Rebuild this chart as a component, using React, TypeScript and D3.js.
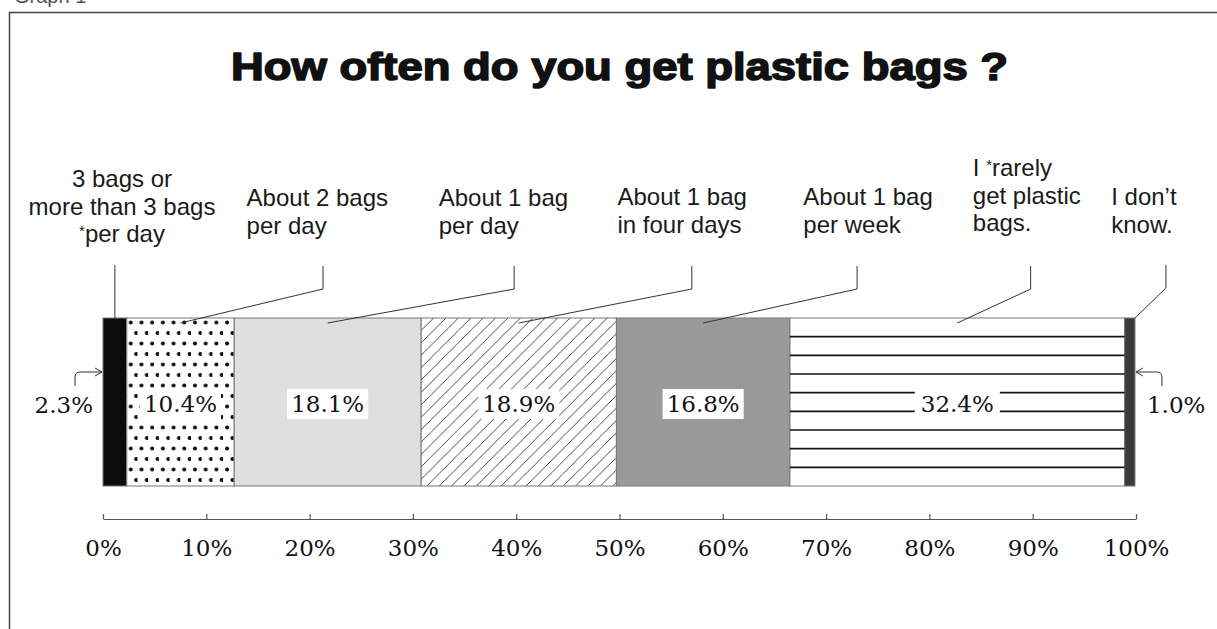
import {useEffect, useRef} from "react";
import * as d3 from "d3";

// Datos del gráfico
const categories = [
  "3 bags or more than 3 bags *per day",
  "About 2 bags per day",
  "About 1 bag per day",
  "About 1 bag in four days",
  "About 1 bag per week",
  "I *rarely get plastic bags.",
  "I don't know.",
];
const labelLines = [
  ["3 bags or", "more than 3 bags", "*per day"],
  ["About 2 bags", "per day"],
  ["About 1 bag", "per day"],
  ["About 1 bag", "in four days"],
  ["About 1 bag", "per week"],
  ["I *rarely", "get plastic", "bags."],
  ["I don\u2019t", "know."],
];
const values = [2.3, 10.4, 18.1, 18.9, 16.8, 32.4, 1.0];
const valueLabels = ["2.3%", "10.4%", "18.1%", "18.9%", "16.8%", "32.4%", "1.0%"];
const tickValues = [0, 10, 20, 30, 40, 50, 60, 70, 80, 90, 100];
const title = "How often do you get plastic bags ?";

// Layout de etiquetas (en % del eje)
const labelAtPct = [1.84, 13.9, 32.5, 49.8, 67.8, 84.2, 97.6];
const elbowPct = [NaN, 21.3, 39.8, 57.0, 73.0, 89.8, 102.9];
const labelTop = [187, 206, 206, 205, 205, 176, 205];

const W = 1217;
const H = 629;
const SANS = "'Liberation Sans', Arial, sans-serif";
const SERIF = "'DejaVu Serif', 'Liberation Serif', serif";

export default function App() {
  const svgRef = useRef<SVGSVGElement>(null);

  useEffect(() => {
    if (!svgRef.current) return;
    const svg = d3.select(svgRef.current);
    svg.selectAll("*").remove();

    const x = d3.scaleLinear().domain([0, 100]).range([103, 1136]);
    const barTop = 318;
    const barBottom = 486;
    const barMid = (barTop + barBottom) / 2;
    const starts = [0, ...Array.from(d3.cumsum(values))];

    // Patrones
    const defs = svg.append("defs");
    const dots = defs
      .append("pattern")
      .attr("id", "dots")
      .attr("patternUnits", "userSpaceOnUse")
      .attr("x", x(starts[1]))
      .attr("y", barTop)
      .attr("width", 10.7)
      .attr("height", 21)
      .attr("patternTransform", "translate(0,0)");
    dots.append("rect").attr("width", 10.7).attr("height", 21).attr("fill", "#fff");
    dots.append("circle").attr("cx", 4).attr("cy", 4.5).attr("r", 2).attr("fill", "#0d0d0d");
    dots.append("circle").attr("cx", 9.35).attr("cy", 15).attr("r", 2).attr("fill", "#0d0d0d");

    const hs = 12.4;
    const hatch = defs
      .append("pattern")
      .attr("id", "hatch")
      .attr("patternUnits", "userSpaceOnUse")
      .attr("x", x(starts[3]))
      .attr("y", barTop)
      .attr("width", hs)
      .attr("height", hs);
    hatch.append("rect").attr("width", hs).attr("height", hs).attr("fill", "#fff");
    hatch
      .append("path")
      .attr(
        "d",
        `M0,${hs} L${hs},0 M${-hs / 2},${hs / 2} L${hs / 2},${-hs / 2} M${hs / 2},${hs * 1.5} L${hs * 1.5},${hs / 2}`,
      )
      .attr("stroke", "#333")
      .attr("stroke-width", 0.9);

    const fills = ["#0c0c0c", "url(#dots)", "#dfdfdf", "url(#hatch)", "#9a9a9a", "#fff", "#3a3a3a"];

    // Marco
    svg
      .append("path")
      .attr("d", `M9.5,${H} V12.5 H${W}`)
      .attr("fill", "none")
      .attr("stroke", "#444")
      .attr("stroke-width", 1.5);
    svg
      .append("text")
      .attr("x", 14)
      .attr("y", 3)
      .style("font-family", SANS)
      .style("font-size", "20px")
      .attr("fill", "#555")
      .text("Graph 1");

    // Título
    svg
      .append("text")
      .attr("x", 619.5)
      .attr("y", 80)
      .attr("text-anchor", "middle")
      .attr("textLength", 777)
      .attr("lengthAdjust", "spacingAndGlyphs")
      .style("font-family", SANS)
      .style("font-weight", "bold")
      .style("font-size", "39px")
      .attr("fill", "#111")
      .attr("stroke", "#111")
      .attr("stroke-width", 1.6)
      .attr("stroke-linejoin", "round")
      .text(title);

    // Segmentos
    svg
      .selectAll(".seg")
      .data(values)
      .enter()
      .append("rect")
      .attr("class", "seg")
      .attr("x", (_, i) => x(starts[i]))
      .attr("y", barTop)
      .attr("width", (d) => x(d) - x(0))
      .attr("height", barBottom - barTop)
      .attr("fill", (_, i) => fills[i])
      .attr("stroke", "#777")
      .attr("stroke-width", 1);

    // Líneas horizontales del segmento "rarely"
    const nLines = 9;
    svg
      .selectAll(".hline")
      .data(d3.range(1, nLines))
      .enter()
      .append("line")
      .attr("x1", x(starts[5]))
      .attr("x2", x(starts[6]))
      .attr("y1", (k) => barTop + (k * (barBottom - barTop)) / nLines)
      .attr("y2", (k) => barTop + (k * (barBottom - barTop)) / nLines)
      .attr("stroke", "#111")
      .attr("stroke-width", 1.6);

    // Etiquetas de porcentaje internas
    for (let i = 1; i <= 5; i++) {
      const g = svg.append("g");
      const rect = g.append("rect").attr("fill", "#fff");
      const t = g
        .append("text")
        .attr("x", x(starts[i] + values[i] / 2))
        .attr("y", barMid + 10)
        .attr("text-anchor", "middle")
        .style("font-family", SERIF)
        .style("font-size", "23px")
        .attr("fill", "#111")
        .text(valueLabels[i]);
      const bb = (t.node() as SVGTextElement).getBBox();
      const padX = i === 5 ? 6 : 4;
      rect
        .attr("x", bb.x - padX)
        .attr("y", i === 5 ? barTop + (3 * (barBottom - barTop)) / nLines + 2 : bb.y - 2)
        .attr("width", bb.width + padX * 2)
        .attr("height", i === 5 ? ((barBottom - barTop) * 3) / nLines - 4 : bb.height + 4);
    }

    // Etiquetas externas con flechas
    const arrowY = 372;
    const leftEdge = x(0);
    svg
      .append("text")
      .attr("x", leftEdge - 10)
      .attr("y", barMid + 11)
      .attr("text-anchor", "end")
      .style("font-family", SERIF)
      .style("font-size", "23px")
      .attr("fill", "#111")
      .text(valueLabels[0]);
    svg
      .append("path")
      .attr(
        "d",
        `M${leftEdge - 28},${arrowY + 14} V${arrowY + 5} Q${leftEdge - 28},${arrowY} ${leftEdge - 23},${arrowY} H${leftEdge - 1} M${leftEdge - 8},${arrowY - 4} L${leftEdge - 1},${arrowY} L${leftEdge - 8},${arrowY + 4}`,
      )
      .attr("fill", "none")
      .attr("stroke", "#333")
      .attr("stroke-width", 1);

    const rightEdge = x(starts[6] + values[6]);
    svg
      .append("text")
      .attr("x", rightEdge + 12)
      .attr("y", barMid + 11)
      .attr("text-anchor", "start")
      .style("font-family", SERIF)
      .style("font-size", "23px")
      .attr("fill", "#111")
      .text(valueLabels[6]);
    svg
      .append("path")
      .attr(
        "d",
        `M${rightEdge + 27},${arrowY + 14} V${arrowY + 5} Q${rightEdge + 27},${arrowY} ${rightEdge + 22},${arrowY} H${rightEdge + 1} M${rightEdge + 8},${arrowY - 4} L${rightEdge + 1},${arrowY} L${rightEdge + 8},${arrowY + 4}`,
      )
      .attr("fill", "none")
      .attr("stroke", "#333")
      .attr("stroke-width", 1);

    // Etiquetas de categoría y líneas guía
    labelLines.forEach((lines, i) => {
      const t = svg
        .append("text")
        .attr("text-anchor", i === 0 ? "middle" : "start")
        .style("font-family", SANS)
        .style("font-size", "24px")
        .attr("fill", "#1a1a1a")
        .attr("aria-label", categories[i]);
      lines.forEach((line, j) => {
        const ts = t
          .append("tspan")
          .attr("x", x(labelAtPct[i]))
          .attr("y", labelTop[i] + j * 27.5);
        const star = line.indexOf("*");
        if (star >= 0) {
          ts.append("tspan").text(line.slice(0, star));
          ts.append("tspan").style("font-size", "15px").attr("dy", -6).text("*");
          ts.append("tspan").attr("dy", 6).text(line.slice(star + 1));
        } else {
          ts.text(line);
        }
      });

      const segMid = x(starts[i] + values[i] / 2);
      let d: string;
      if (i === 0) {
        d = `M${segMid},265 V${barTop}`;
      } else if (i === labelLines.length - 1) {
        d = `M${x(elbowPct[i])},265 V288 L${x(starts[i] + values[i])},${barTop}`;
      } else {
        d = `M${x(elbowPct[i])},266 V289 L${segMid},${barTop + 5}`;
      }
      svg
        .append("path")
        .attr("d", d)
        .attr("fill", "none")
        .attr("stroke", "#333")
        .attr("stroke-width", 1);
    });

    // Eje
    const axis = svg
      .append("g")
      .attr("transform", "translate(0,519)")
      .call(
        d3
          .axisBottom(x)
          .tickValues(tickValues)
          .tickSizeInner(-5)
          .tickSizeOuter(0)
          .tickPadding(21)
          .tickFormat((d) => `${d}%`),
      );
    axis.selectAll("path, line").attr("stroke", "#555").attr("stroke-width", 1.2);
    axis
      .selectAll("text")
      .style("font-family", SERIF)
      .style("font-size", "23px")
      .attr("fill", "#111");
  }, []);

  return (
    <svg
      ref={svgRef}
      width={W}
      height={H}
      style={{position: "absolute", left: 0, top: 0, background: "#fff", display: "block"}}
    />
  );
}
